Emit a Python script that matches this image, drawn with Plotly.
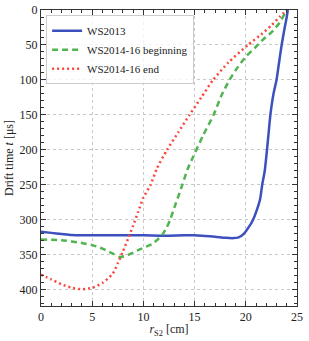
import plotly.graph_objects as go

ws13_x = [0, 1, 2, 3, 4, 6, 8, 10, 12, 14, 15, 16, 17, 18, 18.8, 19.3, 19.8, 20.3, 20.7, 21.1, 21.4, 21.6, 21.85, 22.0, 22.2, 22.4, 22.7, 23.0, 23.2, 23.5, 23.8, 24.0, 24.1]
ws13_y = [317, 318.5, 320, 321.5, 322, 322, 322, 322, 322.5, 322, 322, 323, 324, 325.5, 326, 325, 320, 310, 300, 285, 270, 250, 230, 210, 180, 150, 120, 100, 80, 50, 25, 10, 0]

wsb_x = [0, 2, 4, 5, 6, 7, 7.7, 8.5, 9.5, 10.3, 10.8, 11.4, 11.85, 12.3, 12.6, 13.2, 13.8, 14.3, 14.85, 15.8, 16.85, 17.6, 18.4, 19.2, 20.05, 20.9, 21.7, 22.5, 23.3, 23.8, 23.9]
wsb_y = [328, 329, 333, 336, 341, 348, 353, 350, 343, 338, 335, 328, 321, 310, 300, 275, 250, 228, 210, 180, 150, 123, 100, 82, 66, 54, 42, 32, 18, 5, 0]

wse_x = [0, 1, 2, 3, 4, 5, 6, 7, 7.5, 8, 8.5, 9, 9.5, 10, 10.7, 11.3, 12.3, 13.4, 14.5, 15.65, 16.8, 18.3, 20.2, 21.5, 22.5, 23.3, 24.0]
wse_y = [378, 385, 392, 397, 399, 397, 390, 377, 362, 345, 327, 308, 288, 268, 250, 227, 200, 175, 150, 125, 100, 75, 50, 35, 22, 10, 0]

names = ["WS2013", "WS2014-16 beginning", "WS2014-16 end"]

font = "Liberation Serif, serif"
fig = go.Figure()
fig.add_trace(go.Scatter(x=ws13_x, y=ws13_y, mode="lines", name=names[0],
                         line=dict(color="rgb(60,80,190)", width=2.5, shape="spline", smoothing=0.6)))
fig.add_trace(go.Scatter(x=wsb_x, y=wsb_y, mode="lines", name=names[1],
                         line=dict(color="rgb(80,180,80)", width=2.5, dash="6px,4px", shape="spline", smoothing=0.6)))
fig.add_trace(go.Scatter(x=wse_x, y=wse_y, mode="lines", name=names[2],
                         line=dict(color="rgb(250,70,60)", width=2.5, dash="2px,3px", shape="spline", smoothing=0.6)))

axis_common = dict(
    showline=True, linecolor="#333", linewidth=1, mirror="allticks",
    ticks="inside", ticklen=5, tickwidth=1, tickcolor="#333",
    showgrid=True, gridcolor="#c8c8c8", griddash="dot", gridwidth=1,
    zeroline=False, automargin=False, tickfont=dict(family=font, size=12, color="#222"),
)

fig.update_xaxes(range=[0, 25], dtick=5, tick0=0,
                 minor=dict(dtick=1, ticks="inside", ticklen=3, tickcolor="#333", showgrid=False),
                 title=dict(text="<i>r</i><sub>S2</sub> [cm]", font=dict(family=font, size=12, color="#222"), standoff=1),
                 **axis_common)
fig.update_yaxes(range=[423, 0], dtick=50, tick0=0,
                 minor=dict(dtick=10, ticks="inside", ticklen=3, tickcolor="#333", showgrid=False),
                 title=dict(text="Drift time <i>t</i> [μs]", font=dict(family=font, size=12, color="#222"), standoff=3),
                 **axis_common)

fig.update_layout(
    width=309, height=341,
    margin=dict(l=41, r=12, t=10, b=35),
    plot_bgcolor="white", paper_bgcolor="white",
    showlegend=True,
    legend=dict(x=0.02, y=0.982, xanchor="left", yanchor="top",
                bgcolor="rgba(255,255,255,0.8)", bordercolor="#ccc", borderwidth=1,
                font=dict(family=font, size=11, color="#222"),
                tracegroupgap=0, itemwidth=30),
)

fig.write_html("out.html", config={"displayModeBar": False},
               post_script="document.body.style.margin='0';document.body.style.overflow='hidden';")
